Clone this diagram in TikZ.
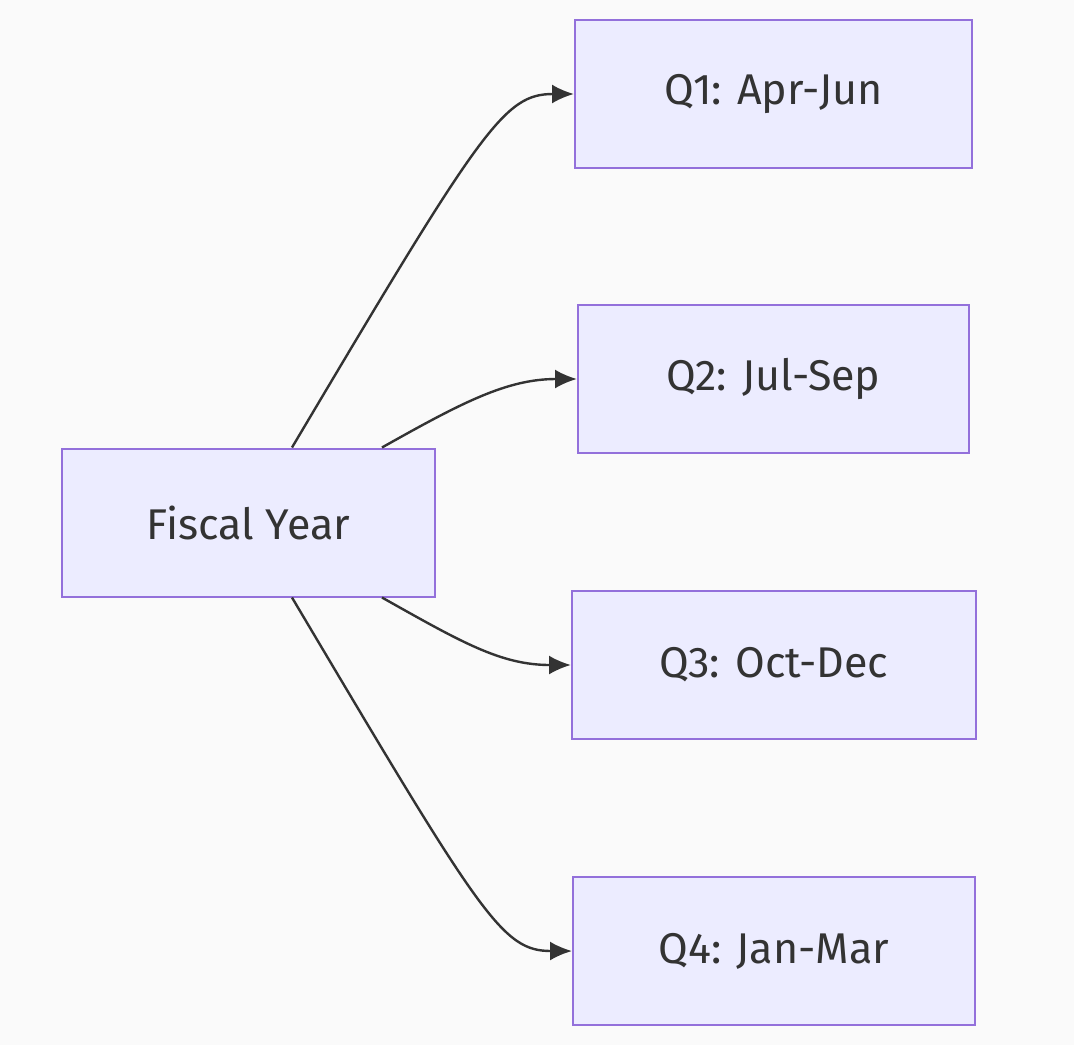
\documentclass[tikz,border=0pt]{standalone}
\usepackage{fontspec}
\setmainfont{Fira Sans}
\usetikzlibrary{arrows.meta}
\definecolor{boxfill}{HTML}{ECECFF}
\definecolor{boxline}{HTML}{9370DB}
\definecolor{linkcol}{HTML}{333333}
\begin{document}
\begin{tikzpicture}[x=1pt,y=-1pt,
    >={Latex[length=22pt,width=19pt]},
    every node/.style={draw=boxline, line width=2pt, fill=boxfill, text=linkcol,
      font=\fontsize{43}{50}\selectfont, minimum height=148pt},
    link/.style={->, draw=linkcol, line width=2.4pt}]

    \fill[white!98!black] (0,0) rectangle (1074,1045);
    \useasboundingbox (0,0) rectangle (1074,1045);

    \node[minimum width=373pt] (fy) at (248.5,522.5) {Fiscal Year};
    \node[minimum width=397pt] (q1) at (773.5,94) {Q1: Apr-Jun};
    \node[minimum width=391pt] (q2) at (773.5,379) {Q2: Jul-Sep};
    \node[minimum width=404pt] (q3) at (774,665) {Q3: Oct-Dec};
    \node[minimum width=402pt] (q4) at (774,951) {Q4: Jan-Mar};

    \draw[link] ([xshift=43.5pt]fy.north) .. controls +(190,-320) and +(-70,0) .. (q1.west);
    \draw[link] ([xshift=133.5pt]fy.north) .. controls +(80,-45) and +(-70,0) .. (q2.west);
    \draw[link] ([xshift=133.5pt]fy.south) .. controls +(80,45) and +(-70,0) .. (q3.west);
    \draw[link] ([xshift=43.5pt]fy.south) .. controls +(190,320) and +(-70,0) .. (q4.west);
\end{tikzpicture}
\end{document}
